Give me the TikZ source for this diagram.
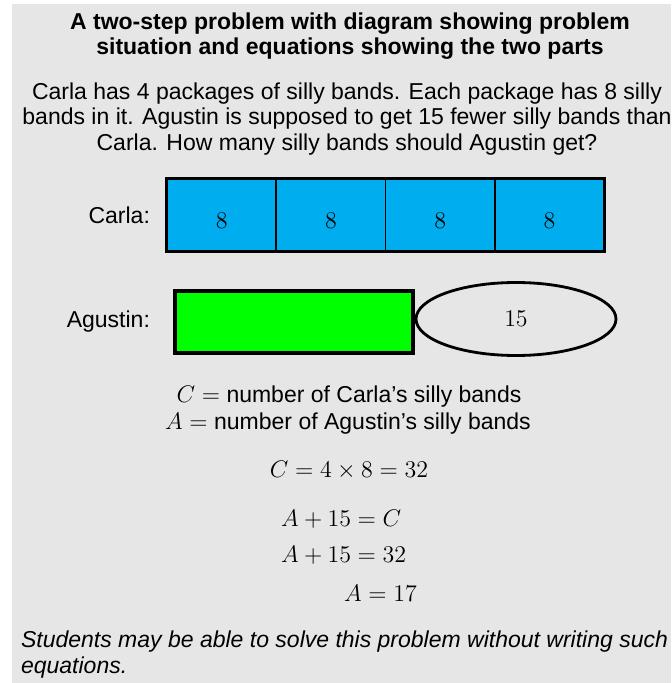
\documentclass[tikz,border=0pt]{standalone}
\usepackage[no-math]{fontspec}
\setmainfont{Liberation Sans}
\usepackage{amsmath}
\usetikzlibrary{shapes.geometric, positioning}
\definecolor{bgGray}{RGB}{230, 230, 230}
\definecolor{tapeBlue}{RGB}{0, 174, 239}
\definecolor{tapeGreen}{RGB}{0, 255, 0}
\tikzset{
  cell/.style={
    rectangle, draw=black, line width=0.8pt,
    fill=tapeBlue,
    minimum width=54.6pt, minimum height=35.5pt,
    text height=14pt, text depth=0pt,
    inner sep=0pt, font=\fontsize{12.5}{14}\selectfont
  },
  greenbar/.style={
    rectangle, draw=black, line width=1.6pt,
    fill=tapeGreen,
    minimum width=119pt, minimum height=31pt,
    inner sep=0pt
  },
  oval/.style={
    ellipse, draw=black, line width=1.4pt,
    minimum width=100pt, minimum height=36.5pt,
    inner sep=0pt, font=\fontsize{12.5}{14}\selectfont
  },
  rowlabel/.style={
    anchor=east, font=\fontsize{11.5}{13}\selectfont
  },
  para/.style={
    align=center, font=\fontsize{11.5}{12.7}\selectfont
  },
  eqn/.style={
    font=\fontsize{12.7}{15}\selectfont
  }
}

\begin{document}
\begin{tikzpicture}[x=0.5pt, y=-0.5pt]

  % ── Page and background ───────────────────────────────────────────────────
  \useasboundingbox (0,0) rectangle (671,683);
  \fill[bgGray] (12,4) rectangle (671,683);

  % ── Heading and problem ──────────────────────────────────────────────────
  \node[para, font=\fontsize{11.5}{12.5}\selectfont\bfseries] (title) at (350,36)
    {A two-step problem with diagram showing problem\\situation and equations showing the two parts};
  \node[para] (problem) at (347,119)
    {Carla has 4 packages of silly bands. Each package has 8 silly\\
     bands in it. Agustin is supposed to get 15 fewer silly bands than\\
     Carla. How many silly bands should Agustin get?};

  % ── Tape for Carla ───────────────────────────────────────────────────────
  \node[rowlabel] (carlaLbl) at (157,215) {Carla:};
  \foreach \i in {1,...,4}{
    \node[cell] (c\i) at ({167+109.25*(\i-0.5)},215) {$8$};
  }
  \draw[line width=1.6pt] (c1.north west) rectangle (c4.south east);

  % ── Tape for Agustin ─────────────────────────────────────────────────────
  \node[rowlabel] (agustinLbl) at (157,322) {Agustin:};
  \node[greenbar] (green) at (294,322) {};
  \node[oval, anchor=west, yshift=1.5pt] (less) at (green.east) {$15$};

  % ── Letters and equations ────────────────────────────────────────────────
  \node[para] (defC) at (349,397) {$C =$ number of Carla's silly bands};
  \node[para] (defA) at (348,424) {$A =$ number of Agustin's silly bands};

  \node[eqn] (eq1) at (349,470) {$C = 4 \times 8 = 32$};
  \node[eqn, anchor=west] (eq2) at (274,519) {$A + 15 = C$};
  \node[eqn, anchor=west] (eq3) at (274,555) {$A + 15 = 32$};
  \node[eqn, anchor=east] (eq4) at (424,593) {$A = 17$};

  % ── Closing remark ───────────────────────────────────────────────────────
  \node[para, align=left, anchor=west, font=\fontsize{11.5}{13}\selectfont\itshape]
    (remark) at (14,655)
    {Students may be able to solve this problem without writing such\\equations.};

\end{tikzpicture}
\end{document}
